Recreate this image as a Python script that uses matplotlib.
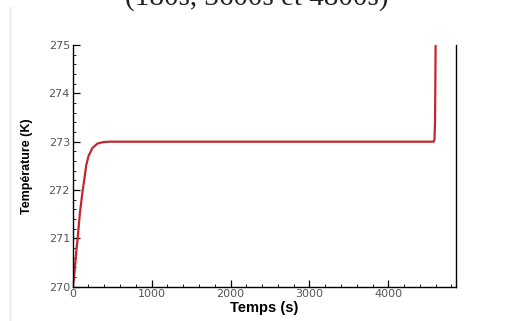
import numpy as np
import matplotlib
matplotlib.use("Agg")
import matplotlib.pyplot as plt
from matplotlib.lines import Line2D
from matplotlib.ticker import MultipleLocator

# courbe de température
temps = [0, 15, 34, 50, 63, 90, 127, 150, 170, 200, 250, 313, 380, 465, 600,
         4575, 4585, 4592, 4596, 4600]
temperature = [270.0, 270.15, 270.5, 270.8, 271.0, 271.5, 272.0, 272.25, 272.5,
               272.7, 272.87, 272.96, 272.99, 273.0, 273.0,
               273.0, 273.05, 273.4, 274.2, 275.2]

x_ticks = [0, 1000, 2000, 3000, 4000]
y_ticks = [270, 271, 272, 273, 274, 275]

fig = plt.figure(figsize=(5.13, 3.21), dpi=100)
ax = fig.add_axes([0.1417, 0.1069, 0.8883 - 0.1417, 0.8598 - 0.1069])

ax.plot(temps, temperature, color="#c4262e", lw=1.6, clip_on=True)

ax.set_xlim(0, 4854)
ax.set_ylim(270, 275)
ax.set_xticks(x_ticks)
ax.set_yticks(y_ticks)
ax.xaxis.set_minor_locator(MultipleLocator(200))
ax.yaxis.set_minor_locator(MultipleLocator(0.2))
ax.tick_params(which="both", direction="in", colors="black", labelcolor="#555555",
               labelsize=8, width=0.9)
ax.tick_params(which="major", length=5)
ax.tick_params(which="minor", length=2.5, width=0.6)
ax.tick_params(axis="x", pad=2)
ax.tick_params(axis="y", pad=2)
ax.spines["top"].set_visible(False)
for s in ["left", "bottom", "right"]:
    ax.spines[s].set_linewidth(1.0)

ax.set_xlabel("Temps (s)", fontsize=10.5, fontweight="bold", family="Liberation Sans", labelpad=1)
ax.set_ylabel("Température (K)", fontsize=9, fontweight="bold", family="Liberation Sans", labelpad=11)

# légende de la figure (coupée en haut)
fig.text(0.5, 1 - 5 / 321, "(180s, 3600s et 4800s)", ha="center", va="baseline",
         fontsize=21, family="Liberation Serif", color="#222222")

# bordure pâle de la page
fig.add_artist(Line2D([10 / 513, 10 / 513], [0, 1 - 7 / 321], color="#e6e6e6", lw=1))

fig.savefig("out.png", dpi=100)
